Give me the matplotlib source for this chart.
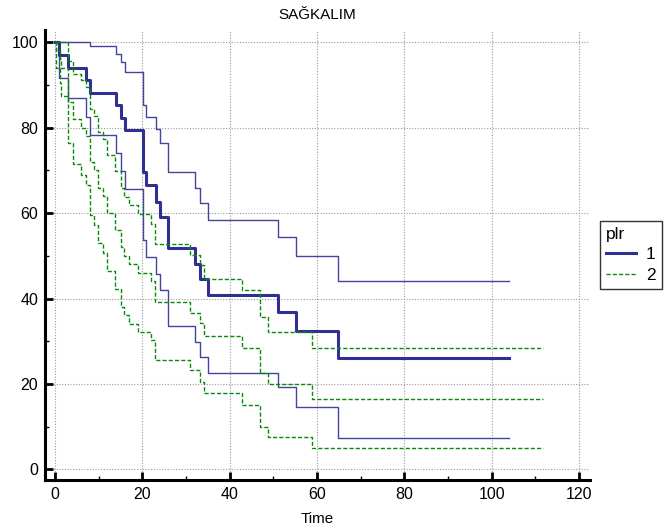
import matplotlib
matplotlib.use("Agg")
import matplotlib.pyplot as plt
from matplotlib.lines import Line2D
from matplotlib.ticker import MultipleLocator

plt.rcParams['font.family'] = ['Liberation Sans', 'DejaVu Sans']

# ---- data ----
g1_time  = [0, 0.9, 3.0, 7.0, 8.1, 13.9, 15.0, 16.0, 20.1, 20.9, 23.1, 24.0, 25.9, 32.0, 33.1, 35.1, 51.0, 55.1, 64.9]
g1_surv  = [100, 97.1, 94.1, 91.2, 88.2, 85.3, 82.4, 79.4, 69.7, 66.6, 62.7, 59.2, 51.9, 48.2, 44.5, 40.8, 36.9, 32.3, 26.0]
g1_lower = [100, 91.7, 87.0, 82.5, 78.3, 74.0, 69.8, 65.6, 53.7, 49.7, 45.7, 41.9, 33.6, 29.8, 26.4, 22.6, 19.2, 14.5, 7.4]
g1_upper = [100, 100, 100, 100, 99.1, 97.2, 95.3, 93.1, 85.3, 82.6, 79.7, 76.5, 69.7, 66.0, 62.3, 58.5, 54.5, 50.0, 44.0]
g1_end = 104.0

g2_time  = [0, 0.2, 1.1, 1.3, 3.0, 4.0, 6.0, 7.0, 7.9, 8.9, 9.9, 11.0, 11.9, 13.8, 15.0, 15.9, 17.0, 18.9, 21.9, 23.0, 30.8, 33.1, 34.0, 42.8, 46.9, 48.8, 58.9]
g2_surv  = [100, 98, 96, 94, 86, 82, 80, 78, 72, 70, 66, 64, 60, 56, 52, 50, 48, 46, 44, 39.3, 36.7, 34.2, 31.3, 28.5, 22.6, 19.9, 16.5]
g2_lower = [100, 94.1, 90.6, 87.4, 76.4, 71.4, 68.9, 66.5, 59.6, 57.3, 52.9, 50.7, 46.4, 42.2, 38.1, 36.1, 34.1, 32.2, 30.2, 25.6, 23.3, 20.5, 17.9, 15.1, 9.9, 7.6, 4.9]
g2_upper = [100, 100, 100, 100, 95.6, 92.6, 91.1, 89.5, 84.4, 82.7, 79.1, 77.3, 73.6, 69.8, 65.9, 63.9, 61.9, 59.8, 57.5, 52.8, 50.2, 47.8, 44.6, 42.0, 35.6, 32.1, 28.5]
g2_end = 111.7

group_labels = ['1', '2']
x_ticks = [0, 20, 40, 60, 80, 100, 120]
y_ticks = [0, 20, 40, 60, 80, 100]

BLUE = '#2e3192'
GREEN = '#0a8a0a'

W, H = 665, 530
fig = plt.figure(figsize=(W / 100, H / 100), dpi=100)
ax = fig.add_axes([45 / W, 1 - 480 / H, (590 - 45) / W, (480 - 30) / H])


def stepline(t, v, end, **kw):
    ax.step(list(t) + [end], list(v) + [v[-1]], where='post', **kw)


stepline(g1_time, g1_upper, g1_end, color=BLUE, lw=1.0, alpha=0.9)
stepline(g1_time, g1_lower, g1_end, color=BLUE, lw=1.0, alpha=0.9)
stepline(g1_time, g1_surv, g1_end, color=BLUE, lw=2.2)

dash = (0, (3, 1.5))
stepline(g2_time, g2_upper, g2_end, color=GREEN, lw=1.0, linestyle=dash)
stepline(g2_time, g2_lower, g2_end, color=GREEN, lw=1.0, linestyle=dash)
stepline(g2_time, g2_surv, g2_end, color=GREEN, lw=1.0, linestyle=dash)

ax.set_xlim(-2.3, 122.5)
ax.set_ylim(-2.5, 102.9)
ax.set_xticks(x_ticks)
ax.set_yticks(y_ticks)
ax.xaxis.set_minor_locator(MultipleLocator(10))
ax.yaxis.set_minor_locator(MultipleLocator(10))
ax.tick_params(which='major', direction='in', length=6, width=2, labelsize=11.5, pad=5)
ax.tick_params(which='minor', direction='in', length=3, width=1)
ax.grid(True, which='major', color='#9a9a9a', linestyle=(0, (1, 1.5)), linewidth=0.8)
ax.set_axisbelow(True)

for s in ['top', 'right']:
    ax.spines[s].set_visible(False)
for s in ['left', 'bottom']:
    ax.spines[s].set_linewidth(2.2)
    ax.spines[s].set_color('black')

ax.set_xlabel('Time', fontsize=11, labelpad=7)
ax.set_title('SAĞKALIM', fontsize=11, pad=8)

handles = [Line2D([], [], color=BLUE, lw=2.2),
           Line2D([], [], color=GREEN, lw=1.0, linestyle=dash)]
leg = fig.legend(handles, group_labels, title='plr', loc='upper left',
                 bbox_to_anchor=(600 / W, 1 - 221 / H), frameon=True, fancybox=False,
                 edgecolor='black', fontsize=12.5, title_fontsize=12.5,
                 handlelength=1.7, handletextpad=0.6, borderpad=0.35,
                 labelspacing=0.3, borderaxespad=0)
leg.get_frame().set_linewidth(1.0)
leg._legend_box.align = 'left'

fig.savefig('out.png', dpi=100)
